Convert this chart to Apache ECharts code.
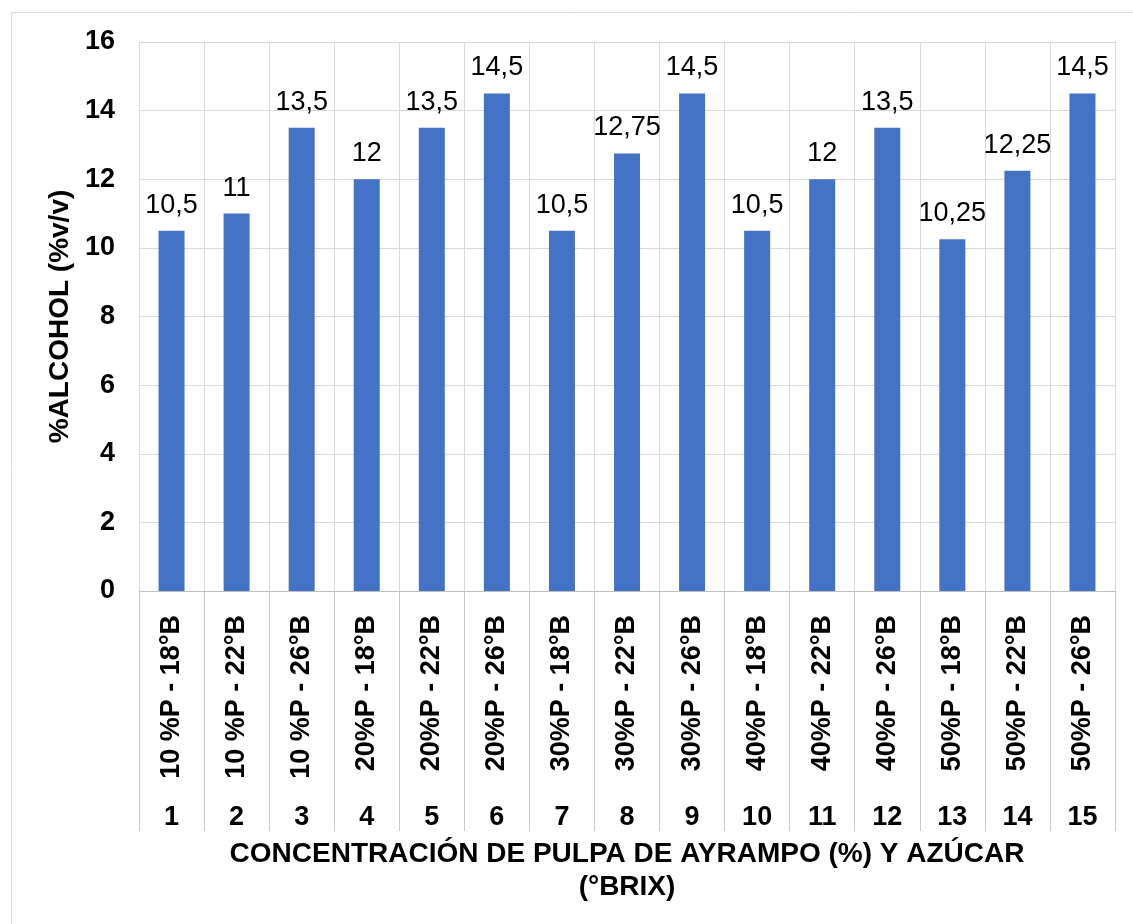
<!DOCTYPE html>
<html><head><meta charset="utf-8">
<script src="https://cdn.jsdelivr.net/npm/echarts@6/dist/echarts.min.js"></script>
<style>html,body{margin:0;padding:0;background:#fff}#c{width:1133px;height:924px}</style>
</head><body><div id="c"></div>
<script>
const categories = ['10 %P - 18°B','10 %P - 22°B','10 %P - 26°B','20%P - 18°B','20%P - 22°B','20%P - 26°B','30%P - 18°B','30%P - 22°B','30%P - 26°B','40%P - 18°B','40%P - 22°B','40%P - 26°B','50%P - 18°B','50%P - 22°B','50%P - 26°B'];
const runNumbers = ['1','2','3','4','5','6','7','8','9','10','11','12','13','14','15'];
const alcohol = [10.5, 11, 13.5, 12, 13.5, 14.5, 10.5, 12.75, 14.5, 10.5, 12, 13.5, 10.25, 12.25, 14.5];
const yTitle = '%ALCOHOL (%v/v)';
const xTitle = 'CONCENTRACIÓN DE PULPA DE AYRAMPO (%) Y AZÚCAR\n(°BRIX)';

const FONT = 'Liberation Sans, Arial, sans-serif';
const grid = '#d9d9d9';
const chart = echarts.init(document.getElementById('c'));
chart.setOption({
  animation: false,
  textStyle: {fontFamily: FONT},
  graphic: [{type:'rect', shape:{x:11.5,y:12.5,width:1200,height:1000}, style:{fill:'none', stroke:grid, lineWidth:1}, silent:true}],
  grid: {left:139, right:18, top:42, bottom:333},
  xAxis: [{
    type:'category', data:categories, position:'bottom',
    axisLine:{show:true, lineStyle:{color:'#bfbfbf', width:1}},
    axisTick:{show:true, interval:0, length:240, lineStyle:{color:'#c8c8c8'}},
    splitLine:{show:true, interval:0, lineStyle:{color:grid}},
    axisLabel:{interval:0, rotate:90, margin:24, fontSize:27, fontWeight:'bold', color:'#000', fontFamily:FONT}
  },{
    type:'category', data:runNumbers, position:'bottom', offset:205,
    axisLine:{show:false}, axisTick:{show:false}, splitLine:{show:false},
    axisLabel:{interval:0, margin:8, fontSize:27, fontWeight:'bold', color:'#000', fontFamily:FONT},
    name:xTitle, nameLocation:'middle', nameGap:42,
    nameTextStyle:{fontSize:28, fontWeight:'bold', color:'#000', lineHeight:33, fontFamily:FONT}
  }],
  yAxis: {
    type:'value', min:0, max:16, interval:2,
    axisLine:{show:false}, axisTick:{show:false},
    splitLine:{lineStyle:{color:grid}},
    axisLabel:{margin:24, fontSize:27, fontWeight:'bold', color:'#000', fontFamily:FONT},
    name:yTitle, nameLocation:'middle', nameGap:64, nameRotate:90,
    nameTextStyle:{fontSize:28, fontWeight:'bold', color:'#000', fontFamily:FONT}
  },
  series: [{
    type:'bar', data:alcohol, xAxisIndex:0, barWidth:26,
    itemStyle:{color:'#4472c4'},
    label:{show:true, position:'top', distance:12, fontSize:27, color:'#000', fontFamily:FONT,
      formatter: p => String(p.value).replace('.', ',')}
  }]
});
</script></body></html>
